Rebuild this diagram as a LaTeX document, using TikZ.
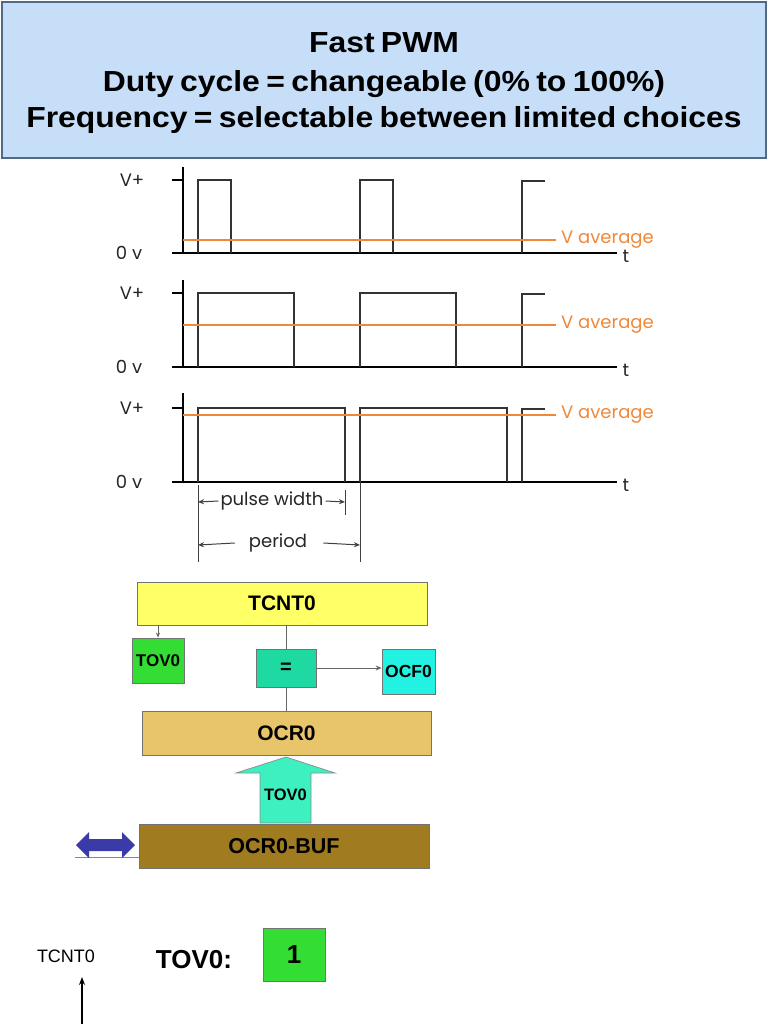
\documentclass[tikz,border=0pt]{standalone}
\usepackage{fontspec}
\setmainfont{Liberation Sans}
\newfontfamily\geo{Poppins}
\usetikzlibrary{arrows.meta}
\definecolor{titlebg}{HTML}{C6DEF8}
\definecolor{titleln}{HTML}{4F6B88}
\definecolor{avgor}{HTML}{F0883A}
\definecolor{wavegr}{HTML}{333333}
\definecolor{yelbox}{HTML}{FFFF66}
\definecolor{grnbox}{HTML}{33DD33}
\definecolor{eqbox}{HTML}{1FD9A3}
\definecolor{ocfbox}{HTML}{22F2E2}
\definecolor{ocrbox}{HTML}{E8C46A}
\definecolor{bufbox}{HTML}{A17B1F}
\definecolor{uparr}{HTML}{3CF0C0}
\definecolor{dblue}{HTML}{3A3AA8}
\newcommand\fsz[1]{\fontsize{#1}{#1}\selectfont}
\newcommand\ttl[1]{\scalebox{1.1}[1]{\bfseries\fsz{29}\spaceskip=0.2em plus 0.05em\relax #1}}
\newcommand\wavepanel[6]{%
  % #1 axis top, #2 V+ level, #3 zero level, #4 average level, #5 pulse width, #6 name
  \draw[axisln, line width=2.2pt] (183,#1) -- (183,#3);
  \draw[axisln, line width=1.8pt] (172,#3) -- (617,#3);
  \draw[axisln, line width=1.2pt] (172,#2) -- (183,#2);
  \node[wlab] (vp#6) at (132,#2) {V+};
  \node[wlab] (zv#6) at (129,#3) {0 v};
  \node[wlab] (t#6) at (626,#3+3) {t};
  \draw[waveln] (198,#3) -- (198,#2) -- (198+#5,#2) -- (198+#5,#3);
  \draw[waveln] (360,#3) -- (360,#2) -- (360+#5,#2) -- (360+#5,#3);
  \draw[waveln] (522,#3) -- (522,#2+1) -- (545,#2+1);
  \draw[avgln] (183,#4) -- (556,#4);
  \node[wlab, text=avgor, anchor=west] (va#6) at (561,#4) {V average};
}
\begin{document}
\begin{tikzpicture}[x=1pt,y=-1pt,
  axisln/.style={draw=black},
  waveln/.style={draw=wavegr, line width=1.3pt},
  avgln/.style={draw=avgor, line width=1.4pt},
  wlab/.style={font=\geo\fsz{18}, text=black!85, inner sep=0pt},
  blk/.style={draw=black!55, line width=0.8pt, font=\bfseries, inner sep=0pt},
  thin/.style={draw=black!60, line width=0.9pt},
  dim/.style={draw=black!75, line width=1pt}]
\useasboundingbox (0,0) rectangle (768,1024);
\fill[white] (0,0) rectangle (768,1024);

% title
\node[draw=titleln, line width=1.2pt, fill=titlebg, minimum width=764pt, minimum height=156pt,
      inner sep=0pt] (title) at (384,80) {};
\node[inner sep=0pt, anchor=base] (t1) at (384,53) {\ttl{Fast PWM}};
\node[inner sep=0pt, anchor=base] (t2) at (384,92) {\ttl{Duty cycle = changeable (0\% to 100\%)}};
\node[inner sep=0pt, anchor=base] (t3) at (384,128) {\ttl{Frequency = selectable between limited choices}};

% waveforms
\wavepanel{167}{180}{253}{240}{33}{a}
\wavepanel{280}{293}{367}{325}{96}{b}
\wavepanel{393}{408}{482}{415}{147}{c}

% pulse width / period
\draw[dim] (198,485) -- (198,562);
\draw[dim] (345,490) -- (345,515);
\draw[dim] (360,482) -- (360,562);
\node[wlab] (pw) at (272,501) {pulse width};
\node[wlab] (per) at (278,543) {period};
\draw[dim, -{Stealth[length=6pt,width=5pt]}] ([xshift=-2pt]pw.west) -- (198,502);
\draw[dim, -{Stealth[length=6pt,width=5pt]}] ([xshift=2pt]pw.east) -- (345,502);
\draw[dim, -{Stealth[length=6pt,width=5pt]}] ([xshift=-14pt]per.west) -- (198,545);
\draw[dim, -{Stealth[length=6pt,width=5pt]}] ([xshift=16pt]per.east) -- (360,545);

% block diagram
\node[blk, fill=yelbox, minimum width=290pt, minimum height=43pt, font=\bfseries\fsz{21}] (tcnt) at (282,603.5) {TCNT0};
\node[blk, fill=grnbox, minimum width=52pt, minimum height=45pt, font=\bfseries\fsz{17}] (tov) at (158,660.5) {TOV0};
\node[blk, fill=eqbox, minimum width=60pt, minimum height=38pt, font=\bfseries\fsz{20}] (eq) at (286,668) {=};
\node[blk, fill=ocfbox, minimum width=53pt, minimum height=45pt, font=\bfseries\fsz{17.5}] (ocf) at (408.5,671.5) {OCF0};
\node[blk, fill=ocrbox, minimum width=289pt, minimum height=44pt, font=\bfseries\fsz{21}] (ocr) at (286.5,733) {OCR0};
\node[blk, fill=bufbox, minimum width=290pt, minimum height=44pt, font=\bfseries\fsz{21.5}] (buf) at (284,846) {OCR0-BUF};

\draw[thin, -{Stealth[length=5pt,width=4pt]}] (tov.north |- tcnt.south) -- (tov.north);
\draw[thin] (eq.north |- tcnt.south) -- (eq.north);
\draw[thin] (eq.south) -- (eq.south |- ocr.north);
\draw[thin, -{Stealth[length=6pt,width=5pt]}] (eq.east) -- (eq.east -| ocf.west);

% big up arrow (TOV0 transfer)
\draw[draw=black!45, line width=0.7pt, fill=uparr]
  (260,823) -- (260,773) -- (236,773) -- (286,757) -- (335,773) -- (311,773) -- (311,823) -- cycle;
\node[font=\bfseries\fsz{16.5}, inner sep=0pt] (uplab) at (285.5,795) {TOV0};

% double arrow (data bus)
\draw[draw=green!30!gray, line width=0.8pt] (75,857) -- (buf.south west |- 0,857);
\fill[dblue] (76,845) -- (89,832) -- (89,839) -- (122,839) -- (122,832) -- (135,845)
  -- (122,858) -- (122,851) -- (89,851) -- (89,858) -- cycle;

% bottom
\node[font=\fsz{18}, inner sep=0pt] (tcl) at (66,956.5) {TCNT0};
\coordinate (tbot) at (82,1024);
\coordinate (ttip) at (82,977);
\draw[black, line width=1.6pt, -{Stealth[length=8pt,width=6pt]}] (tbot) -- (ttip);
\node[font=\bfseries\fsz{26}, inner sep=0pt] (tovl) at (194,960) {TOV0:};
\node[blk, fill=grnbox, minimum width=62pt, minimum height=53pt, font=\bfseries\fsz{26}] (one) at (294,954.5) {1};
\end{tikzpicture}
\end{document}
